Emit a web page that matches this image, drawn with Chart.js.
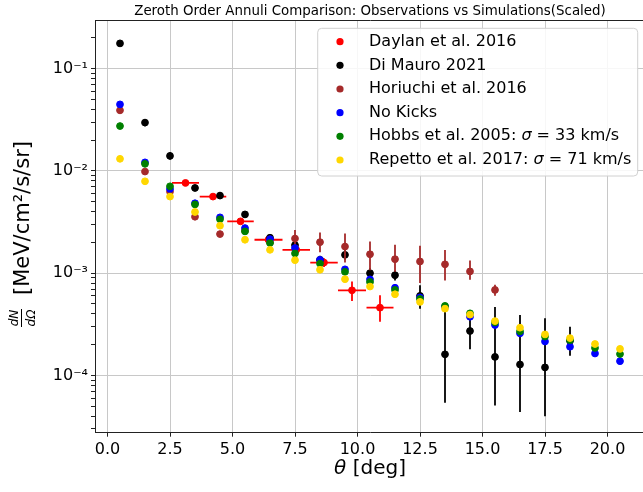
<!DOCTYPE html>
<html>
<head>
<meta charset="utf-8">
<script src="https://cdn.jsdelivr.net/npm/chart.js@4.4.1/dist/chart.umd.min.js"></script>
<style>
  html, body { margin: 0; padding: 0; background: #fff; overflow: hidden; }
  #marco { width: 643px; height: 492px; overflow: hidden; }
</style>
</head>
<body>
<div id="marco"><canvas id="miGrafico" width="650" height="492"></canvas></div>
<script>
// Textos del gráfico
var titulo = 'Zeroth Order Annuli Comparison: Observations vs Simulations(Scaled)';
var nombresSeries = ['Daylan et al. 2016', 'Di Mauro 2021', 'Horiuchi et al. 2016', 'No Kicks',
    'Hobbs et al. 2005: σ = 33 km/s', 'Repetto et al. 2017: σ = 71 km/s'];
var coloresSeries = ['#ff0000', '#000000', '#a52a2a', '#0000ff', '#008000', '#ffd700'];
var ticksX = [0, 2.5, 5, 7.5, 10, 12.5, 15, 17.5, 20];
var decadasY = [1e-5, 1e-4, 1e-3, 1e-2, 1e-1];

// Daylan et al. 2016 (con barras en x y en y)
var daylanX = [3.12, 4.22, 5.32, 6.44, 7.55, 8.66, 9.78, 10.9];
var daylanXErr = [0.54, 0.53, 0.53, 0.56, 0.55, 0.55, 0.56, 0.54];
var daylanY = [0.00762, 0.0056, 0.00321, 0.00212, 0.00169, 0.00127, 0.00068, 0.00046];
var daylanYInf = [0.0072, 0.0053, 0.0030, 0.00196, 0.00156, 0.00115, 0.000535, 0.000335];
var daylanYSup = [0.0081, 0.0059, 0.0034, 0.0023, 0.00182, 0.0014, 0.00083, 0.00061];

// Di Mauro 2021
var mauroX = [0.5, 1.5, 2.5, 3.5, 4.5, 5.5, 6.5, 7.5, 8.5, 9.5, 10.5, 11.5, 12.5, 13.5, 14.5, 15.5, 16.5, 17.5, 18.5];
var mauroY = [0.176, 0.0296, 0.0140, 0.0068, 0.00573, 0.00375, 0.00222, 0.00188, 0.00135, 0.00151,
    0.001, 0.000955, 0.0006, 0.000161, 0.000272, 0.000152, 0.000128, 0.00012, 0.000218];
var mauroYInf = [0.166, 0.0272, 0.0129, 0.0063, 0.0053, 0.00347, 0.00205, 0.00172, 0.00122, 0.00135,
    0.00088, 0.00085, 0.00045, 0.000054, 0.00018, 0.000051, 0.000044, 0.00004, 0.000156];
var mauroYSup = [0.186, 0.032, 0.0151, 0.0073, 0.0062, 0.00403, 0.00239, 0.00204, 0.00148, 0.00167,
    0.00112, 0.00106, 0.00076, 0.00044, 0.00037, 0.000468, 0.00039, 0.000362, 0.0003];

// Horiuchi et al. 2016
var horiuchiX = [0.5, 1.5, 2.5, 3.5, 4.5, 5.5, 6.5, 7.5, 8.5, 9.5, 10.5, 11.5, 12.5, 13.5, 14.5, 15.5];
var horiuchiY = [0.039, 0.00984, 0.00627, 0.00356, 0.00241, 0.0026, 0.0020, 0.00218, 0.00201, 0.00182,
    0.00153, 0.00137, 0.0013, 0.00122, 0.00104, 0.000686];
var horiuchiYInf = [0.037, 0.0094, 0.0060, 0.0034, 0.0023, 0.0025, 0.0019, 0.0018, 0.0016, 0.00127,
    0.00107, 0.00103, 0.0008, 0.00085, 0.00086, 0.0006];
var horiuchiYSup = [0.041, 0.0103, 0.0066, 0.0037, 0.0025, 0.0027, 0.0021, 0.00264, 0.0025, 0.00244,
    0.00204, 0.00189, 0.00185, 0.00168, 0.00133, 0.00077];

// Simulaciones
var simX = [0.5, 1.5, 2.5, 3.5, 4.5, 5.5, 6.5, 7.5, 8.5, 9.5, 10.5, 11.5, 12.5, 13.5, 14.5, 15.5, 16.5, 17.5, 18.5, 19.5, 20.5];
var noKicksY = [0.0446, 0.0121, 0.00666, 0.00482, 0.00351, 0.00276, 0.00215, 0.00176, 0.00135, 0.00109,
    0.00087, 0.00072, 0.00058, 0.00047, 0.000375, 0.000311, 0.000258, 0.000215, 0.000191, 0.000164, 0.000138];
var hobbsY = [0.0274, 0.0117, 0.00706, 0.0047, 0.00336, 0.00256, 0.00197, 0.00156, 0.00124, 0.00103,
    0.00082, 0.000686, 0.00056, 0.000479, 0.000405, 0.00033, 0.00027, 0.00024, 0.000222, 0.000186, 0.000162];
var repettoY = [0.0131, 0.0079, 0.0056, 0.00396, 0.00291, 0.00212, 0.00169, 0.00134, 0.00108, 0.000873,
    0.00074, 0.000622, 0.000524, 0.00045, 0.000393, 0.00034, 0.000293, 0.000252, 0.000232, 0.000203, 0.000182];

var fuente = '"DejaVu Sans"';

function puntos(xs, ys) {
    return xs.map(function (x, i) { return { x: x, y: ys[i] }; });
}

function serie(i, xs, ys, orden, extra) {
    var ds = {
        label: nombresSeries[i],
        data: puntos(xs, ys),
        backgroundColor: coloresSeries[i],
        borderColor: coloresSeries[i],
        pointRadius: 3.4,
        pointBorderWidth: 1,
        order: orden
    };
    return Object.assign(ds, extra || {});
}

var superindices = { '-': '⁻', '0': '⁰', '1': '¹', '2': '²', '3': '³', '4': '⁴', '5': '⁵' };
function potencia(e) {
    return '10' + String(e).split('').map(function (c) { return superindices[c]; }).join('');
}

// Barras de error dibujadas justo antes de los puntos de cada serie
var barrasError = {
    id: 'barrasError',
    beforeDatasetDraw: function (chart, args) {
        var ds = chart.data.datasets[args.index];
        if (!ds.yInf) return;
        var sx = chart.scales.x, sy = chart.scales.y, ctx = chart.ctx, a = chart.chartArea;
        ctx.save();
        ctx.beginPath();
        ctx.rect(a.left, a.top, a.right - a.left, a.bottom - a.top);
        ctx.clip();
        ctx.strokeStyle = ds.borderColor;
        ctx.lineWidth = 1.8;
        ds.data.forEach(function (p, i) {
            var px = sx.getPixelForValue(p.x);
            var py = sy.getPixelForValue(p.y);
            ctx.beginPath();
            ctx.moveTo(px, sy.getPixelForValue(ds.yInf[i]));
            ctx.lineTo(px, sy.getPixelForValue(ds.ySup[i]));
            if (ds.xErr) {
                ctx.moveTo(sx.getPixelForValue(p.x - ds.xErr[i]), py);
                ctx.lineTo(sx.getPixelForValue(p.x + ds.xErr[i]), py);
            }
            ctx.stroke();
        });
        ctx.restore();
    }
};

// Marco superior/derecho, etiquetas de ejes y leyenda
var decoracion = {
    id: 'decoracion',
    afterDraw: function (chart) {
        var ctx = chart.ctx, a = chart.chartArea;
        ctx.save();
        ctx.strokeStyle = '#222';
        ctx.lineWidth = 1;
        ctx.beginPath();
        ctx.moveTo(Math.round(a.left) + 0.5, Math.round(a.top) + 0.5);
        ctx.lineTo(Math.round(a.right) + 0.5, Math.round(a.top) + 0.5);
        ctx.lineTo(Math.round(a.right) + 0.5, Math.round(a.bottom) + 0.5);
        ctx.stroke();

        // etiqueta del eje x: θ [deg] (θ en cursiva)
        ctx.fillStyle = '#000';
        ctx.textBaseline = 'middle';
        ctx.textAlign = 'left';
        ctx.font = 'italic 20px ' + fuente;
        var wTheta = ctx.measureText('θ').width;
        ctx.font = '20px ' + fuente;
        var wResto = ctx.measureText(' [deg]').width;
        var xIni = (a.left + a.right) / 2 - (wTheta + wResto) / 2;
        ctx.font = 'italic 20px ' + fuente;
        ctx.fillText('θ', xIni, 469);
        ctx.font = '20px ' + fuente;
        ctx.fillText(' [deg]', xIni + wTheta, 469);

        // etiqueta del eje y: dN/dΩ [MeV/cm²/s/sr]
        ctx.save();
        ctx.translate(23, 228);
        ctx.rotate(-Math.PI / 2);
        ctx.font = 'italic 12px ' + fuente;
        ctx.textAlign = 'center';
        ctx.textBaseline = 'alphabetic';
        ctx.fillText('dN', -90, -5);
        ctx.fillText('dΩ', -90, 12);
        ctx.fillRect(-99, -2, 18, 1);
        ctx.font = '21px ' + fuente;
        ctx.textAlign = 'left';
        ctx.textBaseline = 'middle';
        ctx.fillText('[MeV/cm²/s/sr]', -67, 1);
        ctx.restore();

        // leyenda
        var x0 = 317.7, y0 = 28.3, w = 320, h = 147.7, r = 4;
        ctx.fillStyle = 'rgba(255,255,255,0.85)';
        ctx.strokeStyle = '#d0d0d0';
        ctx.beginPath();
        ctx.roundRect(x0, y0, w, h, r);
        ctx.fill();
        ctx.stroke();
        ctx.textBaseline = 'middle';
        ctx.textAlign = 'left';
        nombresSeries.forEach(function (nombre, i) {
            var y = 41.7 + i * 23.66;
            ctx.fillStyle = coloresSeries[i];
            ctx.beginPath();
            ctx.arc(340, y, 3.6, 0, Math.PI * 2);
            ctx.fill();
            ctx.fillStyle = '#000';
            var x = 369;
            var partes = nombre.split('σ');
            partes.forEach(function (t, k) {
                ctx.font = '16px ' + fuente;
                ctx.fillText(t, x, y);
                x += ctx.measureText(t).width;
                if (k < partes.length - 1) {
                    ctx.font = 'italic 16px ' + fuente;
                    ctx.fillText('σ', x, y);
                    x += ctx.measureText('σ').width;
                }
            });
        });
        ctx.restore();
    }
};

var ctx = document.getElementById('miGrafico').getContext('2d');

var datos = {
    datasets: [
        serie(0, daylanX, daylanY, 6, { xErr: daylanXErr, yInf: daylanYInf, ySup: daylanYSup }),
        serie(1, mauroX, mauroY, 5, { yInf: mauroYInf, ySup: mauroYSup }),
        serie(2, horiuchiX, horiuchiY, 4, { yInf: horiuchiYInf, ySup: horiuchiYSup }),
        serie(3, simX, noKicksY, 3),
        serie(4, simX, hobbsY, 2),
        serie(5, simX, repettoY, 1)
    ]
};

var opciones = {
    responsive: false,
    animation: false,
    layout: { padding: { left: 0, right: 4.3, top: 0, bottom: 0 } },
    plugins: {
        legend: { display: false },
        tooltip: { enabled: false },
        title: {
            display: true,
            text: titulo,
            fullSize: false,
            color: '#000',
            font: { family: 'DejaVu Sans', size: 13.4, weight: 'normal' },
            padding: { top: 3, bottom: 1.2 }
        }
    },
    scales: {
        x: {
            type: 'linear',
            min: -0.5,
            max: 21.5,
            afterFit: function (s) { s.height = 59.3; },
            afterBuildTicks: function (s) { s.ticks = ticksX.map(function (v) { return { value: v }; }); },
            ticks: {
                color: '#000',
                padding: 4,
                font: { family: 'DejaVu Sans', size: 16 },
                callback: function (v) { return Number(v).toFixed(1); }
            },
            grid: { color: '#c8c8c8', tickColor: '#222', tickLength: 4, lineWidth: 1 },
            border: { color: '#222', width: 1 }
        },
        y: {
            type: 'logarithmic',
            min: 2.76e-5,
            max: 0.296,
            afterFit: function (s) { s.width = 95; },
            afterBuildTicks: function (s) {
                var lista = [];
                decadasY.forEach(function (d) {
                    for (var k = 1; k <= 9; k++) {
                        var v = k * d;
                        if (v >= s.min && v <= s.max) lista.push({ value: v, major: k === 1 });
                    }
                });
                s.ticks = lista;
            },
            ticks: {
                color: '#000',
                padding: 3,
                autoSkip: false,
                font: { family: 'DejaVu Sans', size: 16 },
                callback: function (v) {
                    var e = Math.round(Math.log10(v));
                    if (Math.abs(v - Math.pow(10, e)) / v < 1e-6) return potencia(e);
                    return '';
                }
            },
            grid: {
                color: function (c) {
                    var v = c.tick ? c.tick.value : 0;
                    var e = Math.round(Math.log10(v));
                    return Math.abs(v - Math.pow(10, e)) / v < 1e-6 ? '#c8c8c8' : 'rgba(0,0,0,0)';
                },
                tickColor: '#222',
                tickLength: 4,
                lineWidth: 1
            },
            border: { color: '#222', width: 1 }
        }
    }
};

// Crea el gráfico de dispersión
var miGrafico = new Chart(ctx, {
    type: 'scatter',
    data: datos,
    options: opciones,
    plugins: [barrasError, decoracion]
});
</script>
</body>
</html>
